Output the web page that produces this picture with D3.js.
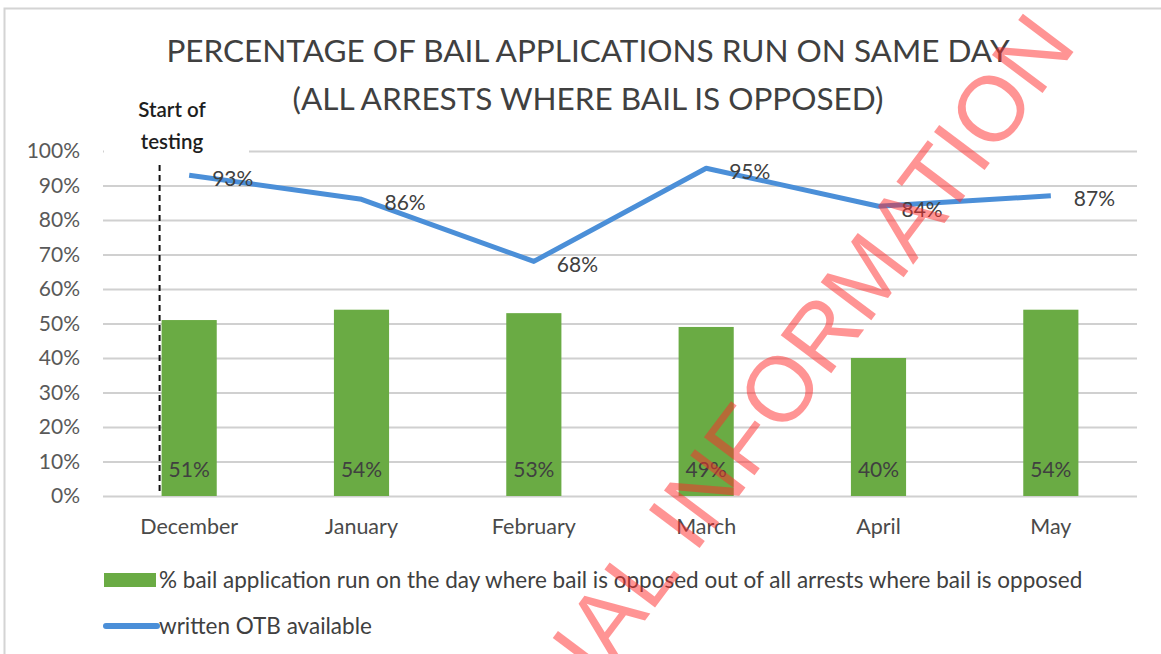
<!DOCTYPE html>
<html lang="en">
<head>
    <meta charset="UTF-8">
    <title>Bail applications run on same day</title>
    <script src="https://d3js.org/d3.v7.min.js"></script>
    <style>
        body {
            margin: 0;
            background: #fff;
            overflow: hidden;
        }
        svg text {
            font-family: Lato, "Open Sans", sans-serif;
        }
    </style>
</head>
<body>
    <div id="chart"></div>
    <script>
        // chart data
        const months = ["December", "January", "February", "March", "April", "May"];
        const sameDayShare = [0.51, 0.54, 0.53, 0.49, 0.40, 0.54];
        const otbAvailable = [0.93, 0.86, 0.68, 0.95, 0.84, 0.87];
        const yTicks = [0, 0.1, 0.2, 0.3, 0.4, 0.5, 0.6, 0.7, 0.8, 0.9, 1.0];
        const titleLines = ["PERCENTAGE OF BAIL APPLICATIONS RUN ON SAME DAY", "(ALL ARRESTS WHERE BAIL IS OPPOSED)"];
        const legendLabels = ["% bail application run on the day where bail is opposed out of all arrests where bail is opposed", "written OTB available"];

        const width = 1161, height = 654;
        const plot = { left: 103, right: 1137, top: 151, bottom: 496 };

        const svg = d3.select("#chart").append("svg")
            .attr("width", width)
            .attr("height", height);

        svg.append("rect")
            .attr("width", width)
            .attr("height", height)
            .attr("fill", "#fff");

        // page frame of the scanned chart
        svg.append("path")
            .attr("d", `M4.5,${height} V8.5 H${width}`)
            .attr("fill", "none")
            .attr("stroke", "#d4d4d4")
            .attr("stroke-width", 2);

        // title
        svg.selectAll(".title")
            .data(titleLines)
            .enter().append("text")
            .attr("class", "title")
            .attr("x", 588)
            .attr("y", (d, i) => 62 + i * 48)
            .attr("text-anchor", "middle")
            .attr("font-size", 31.5)
            .attr("fill", "#404040")
            .text(d => d);

        const x = d3.scaleBand()
            .domain(months)
            .range([plot.left, plot.right])
            .padding(0);

        const y = d3.scaleLinear()
            .domain([0, 1])
            .range([plot.bottom, plot.top]);

        const barWidth = x.bandwidth() * 0.32;
        const cx = d => x(d) + x.bandwidth() / 2;

        // gridlines + y labels
        const yAxis = d3.axisLeft(y)
            .tickValues(yTicks)
            .tickFormat(d3.format(".0%"))
            .tickSize(-(plot.right - plot.left))
            .tickPadding(23);

        const yg = svg.append("g")
            .attr("transform", `translate(${plot.left},0)`)
            .call(yAxis);
        yg.select(".domain").remove();
        yg.selectAll(".tick line")
            .attr("stroke", "#d0d0d0")
            .attr("stroke-width", 2);
        yg.selectAll(".tick text")
            .attr("font-size", 21)
            .attr("fill", "#595959");

        // x labels
        const xAxis = d3.axisBottom(x).tickSize(0).tickPadding(23);
        const xg = svg.append("g")
            .attr("transform", `translate(0,${plot.bottom})`)
            .call(xAxis);
        xg.select(".domain").remove();
        xg.selectAll(".tick text")
            .attr("font-size", 21.5)
            .attr("fill", "#4a4a4a");

        // bars
        svg.selectAll(".bar")
            .data(months)
            .enter().append("rect")
            .attr("class", "bar")
            .attr("x", d => cx(d) - barWidth / 2)
            .attr("y", (d, i) => y(sameDayShare[i]))
            .attr("width", barWidth)
            .attr("height", (d, i) => y(0) - y(sameDayShare[i]))
            .attr("fill", "#6aab44");

        svg.selectAll(".bar-label")
            .data(months)
            .enter().append("text")
            .attr("class", "bar-label")
            .attr("x", d => cx(d))
            .attr("y", plot.bottom - 19)
            .attr("text-anchor", "middle")
            .attr("font-size", 21)
            .attr("fill", "#404040")
            .text((d, i) => d3.format(".0%")(sameDayShare[i]));

        // start of testing marker (text box has white fill, hides part of the top gridline)
        svg.append("rect")
            .attr("x", plot.left + 1).attr("y", 90)
            .attr("width", 145).attr("height", 68)
            .attr("fill", "#fff");

        const markX = x(months[0]) + x.bandwidth() / 2 - barWidth / 2 - 2;
        svg.append("line")
            .attr("x1", markX).attr("x2", markX)
            .attr("y1", 165).attr("y2", plot.bottom - 3)
            .attr("stroke", "#111")
            .attr("stroke-width", 2)
            .attr("stroke-dasharray", "6,4");

        svg.selectAll(".mark-label")
            .data(["Start of", "testing"])
            .enter().append("text")
            .attr("class", "mark-label")
            .attr("x", 172)
            .attr("y", (d, i) => 117 + i * 32)
            .attr("text-anchor", "middle")
            .attr("font-size", 20.5)
            .attr("font-weight", 600)
            .attr("fill", "#1e1e1e")
            .text(d => d);

        // line series
        const line = d3.line()
            .x(d => cx(d))
            .y((d, i) => y(otbAvailable[i]));

        svg.append("path")
            .datum(months)
            .attr("d", line)
            .attr("fill", "none")
            .attr("stroke", "#4b8fd8")
            .attr("stroke-width", 5)
            .attr("stroke-linejoin", "round");

        svg.selectAll(".line-label")
            .data(months)
            .enter().append("text")
            .attr("class", "line-label")
            .attr("x", d => cx(d) + 23)
            .attr("y", (d, i) => y(otbAvailable[i]) + 3)
            .attr("dy", "0.35em")
            .attr("font-size", 21)
            .attr("fill", "#404040")
            .text((d, i) => d3.format(".0%")(otbAvailable[i]));

        // legend
        const legend = svg.append("g").attr("transform", "translate(104,580)");
        legend.append("rect")
            .attr("x", 0).attr("y", -7)
            .attr("width", 52).attr("height", 14)
            .attr("fill", "#6aab44");
        legend.append("line")
            .attr("x1", 2).attr("x2", 53)
            .attr("y1", 46).attr("y2", 46)
            .attr("stroke", "#4b8fd8")
            .attr("stroke-width", 6)
            .attr("stroke-linecap", "round");
        legend.selectAll("text")
            .data(legendLabels)
            .enter().append("text")
            .attr("x", 55)
            .attr("y", (d, i) => i * 46)
            .attr("dy", "0.35em")
            .attr("font-size", 22.5)
            .attr("fill", "#404040")
            .text(d => d);

        // red watermark across the page
        svg.append("text")
            .attr("transform", "translate(1078,46) rotate(-53)")
            .attr("text-anchor", "end")
            .style("font-family", "'Liberation Sans', Arial, sans-serif")
            .attr("font-size", 92)
            .attr("fill", "#ff2a2a")
            .attr("fill-opacity", 0.5)
            .text("OFFICIAL INFORMATION");
    </script>
</body>
</html>
